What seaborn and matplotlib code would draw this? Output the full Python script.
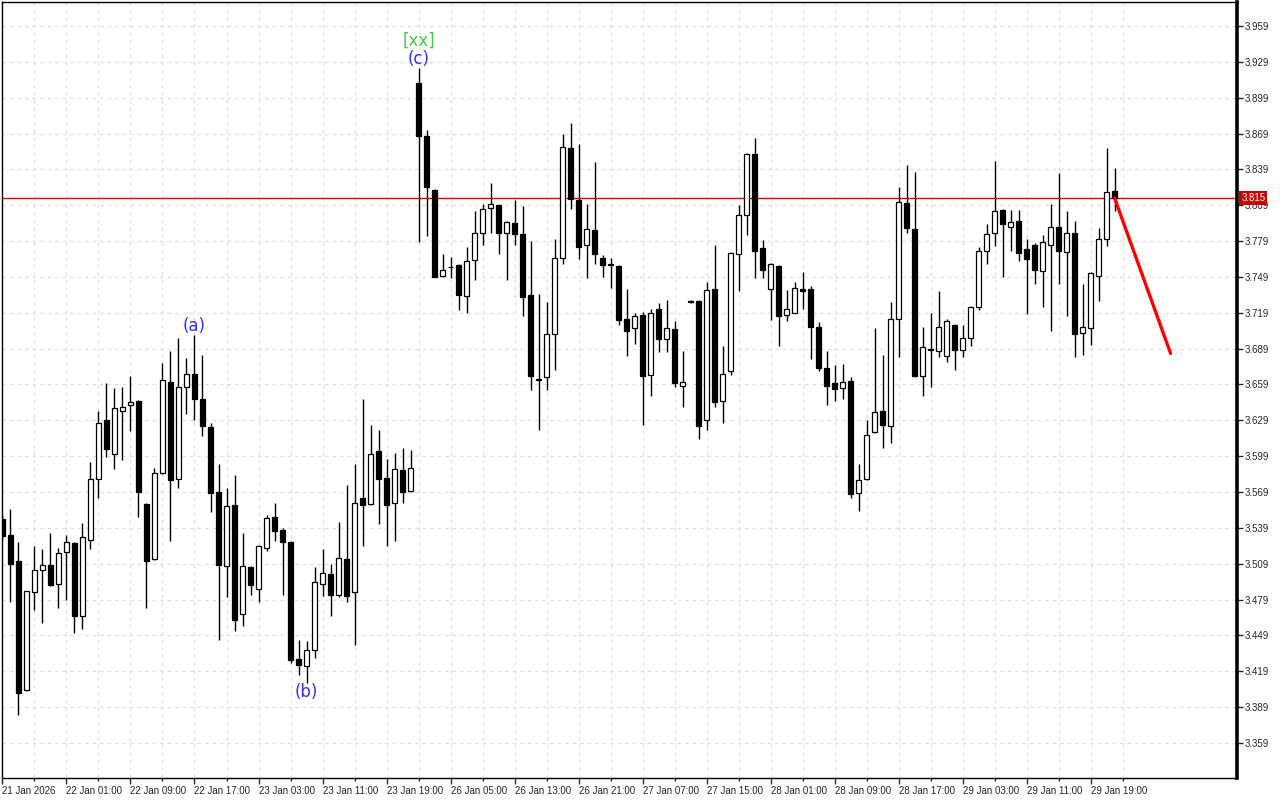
import numpy as np
import pandas as pd
import matplotlib
matplotlib.use('Agg')
import matplotlib.pyplot as plt
import matplotlib.transforms as mtransforms
import seaborn as sns

# hourly OHLC, one value per bar (bar 0 = first bar on the left)
opens = [3.546, 3.533, 3.511, 3.403, 3.485, 3.504, 3.508, 3.492, 3.519, 3.526,
         3.465, 3.529, 3.580, 3.629, 3.601, 3.637, 3.642, 3.645, 3.559, 3.513,
         3.585, 3.661, 3.580, 3.657, 3.668, 3.647, 3.623, 3.569, 3.507, 3.558,
         3.467, 3.506, 3.488, 3.522, 3.548, 3.537, 3.527, 3.429, 3.423, 3.437,
         3.492, 3.500, 3.483, 3.513, 3.485, 3.564, 3.559, 3.603, 3.581, 3.560,
         3.587, 3.570, 3.911, 3.867, 3.822, 3.750, 3.757, 3.759, 3.733, 3.763,
         3.786, 3.807, 3.809, 3.786, 3.794, 3.785, 3.734, 3.663, 3.665, 3.701,
         3.765, 3.857, 3.813, 3.776, 3.788, 3.765, 3.759, 3.758, 3.714, 3.706,
         3.717, 3.667, 3.722, 3.697, 3.705, 3.658, 3.729, 3.729, 3.629, 3.739,
         3.645, 3.670, 3.768, 3.801, 3.852, 3.773, 3.739, 3.758, 3.717, 3.719,
         3.739, 3.739, 3.707, 3.673, 3.660, 3.656, 3.662, 3.568, 3.580, 3.619,
         3.637, 3.624, 3.714, 3.811, 3.789, 3.666, 3.688, 3.687, 3.683, 3.709,
         3.688, 3.698, 3.724, 3.771, 3.786, 3.805, 3.791, 3.796, 3.772, 3.776,
         3.754, 3.776, 3.791, 3.770, 3.786, 3.702, 3.706, 3.750, 3.781, 3.821]
highs = [3.550, 3.555, 3.527, 3.486, 3.524, 3.521, 3.535, 3.522, 3.533, 3.527,
         3.543, 3.594, 3.637, 3.660, 3.656, 3.657, 3.666, 3.646, 3.560, 3.589,
         3.677, 3.687, 3.698, 3.681, 3.700, 3.684, 3.627, 3.592, 3.572, 3.583,
         3.535, 3.507, 3.525, 3.550, 3.560, 3.539, 3.528, 3.445, 3.444, 3.506,
         3.521, 3.509, 3.544, 3.575, 3.592, 3.647, 3.625, 3.621, 3.597, 3.602,
         3.606, 3.604, 3.924, 3.872, 3.823, 3.768, 3.766, 3.760, 3.774, 3.804,
         3.810, 3.828, 3.810, 3.796, 3.813, 3.808, 3.779, 3.735, 3.728, 3.781,
         3.869, 3.878, 3.860, 3.810, 3.845, 3.767, 3.765, 3.759, 3.739, 3.719,
         3.720, 3.722, 3.727, 3.730, 3.712, 3.687, 3.730, 3.730, 3.745, 3.776,
         3.691, 3.770, 3.809, 3.853, 3.865, 3.780, 3.761, 3.759, 3.738, 3.745,
         3.753, 3.741, 3.711, 3.687, 3.675, 3.676, 3.665, 3.592, 3.629, 3.706,
         3.684, 3.728, 3.824, 3.843, 3.837, 3.707, 3.719, 3.737, 3.714, 3.710,
         3.709, 3.725, 3.774, 3.793, 3.846, 3.806, 3.805, 3.805, 3.781, 3.777,
         3.784, 3.810, 3.836, 3.804, 3.796, 3.743, 3.753, 3.790, 3.857, 3.840]
lows = [3.529, 3.477, 3.382, 3.402, 3.470, 3.459, 3.490, 3.472, 3.479, 3.451,
        3.454, 3.521, 3.564, 3.598, 3.588, 3.596, 3.620, 3.548, 3.472, 3.512,
        3.584, 3.528, 3.572, 3.634, 3.629, 3.616, 3.552, 3.445, 3.481, 3.453,
        3.457, 3.483, 3.477, 3.520, 3.528, 3.483, 3.426, 3.416, 3.409, 3.430,
        3.482, 3.465, 3.481, 3.477, 3.441, 3.524, 3.558, 3.542, 3.524, 3.528,
        3.560, 3.569, 3.778, 3.783, 3.749, 3.749, 3.748, 3.721, 3.719, 3.746,
        3.776, 3.786, 3.768, 3.746, 3.776, 3.716, 3.654, 3.621, 3.654, 3.671,
        3.760, 3.806, 3.764, 3.748, 3.760, 3.749, 3.740, 3.709, 3.683, 3.693,
        3.625, 3.649, 3.686, 3.686, 3.657, 3.640, 3.727, 3.613, 3.621, 3.640,
        3.627, 3.667, 3.737, 3.784, 3.748, 3.748, 3.713, 3.691, 3.712, 3.719,
        3.722, 3.680, 3.670, 3.642, 3.645, 3.647, 3.564, 3.553, 3.579, 3.618,
        3.606, 3.610, 3.682, 3.786, 3.665, 3.649, 3.657, 3.682, 3.678, 3.671,
        3.682, 3.691, 3.721, 3.760, 3.775, 3.749, 3.771, 3.762, 3.718, 3.743,
        3.724, 3.704, 3.743, 3.716, 3.682, 3.684, 3.692, 3.729, 3.775, 3.804]
closes = [3.532, 3.509, 3.401, 3.486, 3.504, 3.508, 3.491, 3.518, 3.527, 3.465,
          3.531, 3.580, 3.627, 3.605, 3.639, 3.640, 3.644, 3.569, 3.511, 3.585,
          3.663, 3.579, 3.657, 3.668, 3.647, 3.624, 3.568, 3.508, 3.557, 3.462,
          3.507, 3.491, 3.524, 3.547, 3.536, 3.527, 3.428, 3.424, 3.437, 3.494,
          3.501, 3.483, 3.514, 3.482, 3.560, 3.558, 3.601, 3.580, 3.558, 3.588,
          3.569, 3.589, 3.867, 3.824, 3.749, 3.755, 3.757, 3.734, 3.762, 3.786,
          3.806, 3.810, 3.786, 3.795, 3.785, 3.732, 3.666, 3.663, 3.701, 3.765,
          3.858, 3.814, 3.774, 3.789, 3.768, 3.759, 3.759, 3.713, 3.704, 3.716,
          3.666, 3.719, 3.697, 3.706, 3.660, 3.661, 3.728, 3.624, 3.738, 3.644,
          3.668, 3.769, 3.801, 3.852, 3.771, 3.755, 3.760, 3.716, 3.722, 3.740,
          3.737, 3.707, 3.673, 3.658, 3.655, 3.661, 3.567, 3.579, 3.617, 3.636,
          3.625, 3.714, 3.812, 3.790, 3.666, 3.690, 3.688, 3.707, 3.712, 3.688,
          3.698, 3.724, 3.771, 3.785, 3.804, 3.793, 3.795, 3.769, 3.764, 3.755,
          3.778, 3.791, 3.771, 3.786, 3.701, 3.707, 3.752, 3.781, 3.820, 3.815]

time_labels = ["21 Jan 2026", "22 Jan 01:00", "22 Jan 09:00", "22 Jan 17:00",
               "23 Jan 03:00", "23 Jan 11:00", "23 Jan 19:00", "26 Jan 05:00",
               "26 Jan 13:00", "26 Jan 21:00", "27 Jan 07:00", "27 Jan 15:00",
               "28 Jan 01:00", "28 Jan 09:00", "28 Jan 17:00", "29 Jan 03:00",
               "29 Jan 11:00", "29 Jan 19:00"]
price_ticks = [3.359, 3.389, 3.419, 3.449, 3.479, 3.509, 3.539, 3.569, 3.599,
               3.629, 3.659, 3.689, 3.719, 3.749, 3.779, 3.809, 3.839, 3.869,
               3.899, 3.929, 3.959]

last_price = 3.815
forecast_bars = [139, 146]
forecast_prices = [3.815, 3.685]

# wave labels: text, bar, anchor, offset (points), colour
wave_marks = [("(a)", 24, "high", 6.5, "#3232ff"),
              ("(b)", 38, "low", -6.5, "#3232ff"),
              ("(c)", 52, "high", 6.0, "#3232ff"),
              ("[xx]", 52, "high", 19.5, "#45c845")]

sns.set_style('white')
plt.rcParams['font.family'] = ['DejaVu Sans']

df = pd.DataFrame({'open': opens, 'high': highs, 'low': lows, 'close': closes})
df['bar'] = np.arange(len(df))
up = df['close'] >= df['open']

fig = plt.figure(figsize=(12.8, 8), dpi=100)
ax = fig.add_axes([2 / 1280, 22 / 800, 1235 / 1280, 776 / 800])

# candles
ax.vlines(df['bar'], df['low'], df['high'], color='black', linewidth=1, zorder=3)
body_bottom = df[['open', 'close']].min(axis=1)
body_height = (df['close'] - df['open']).abs().clip(lower=0.0006)
ax.bar(df['bar'], body_height, bottom=body_bottom, width=0.6,
       color=np.where(up, 'white', 'black'), edgecolor='black',
       linewidth=0.9, zorder=4)

# current price line + forecast
ax.axhline(last_price, color='#e00000', linewidth=1, zorder=2)
sns.lineplot(x=forecast_bars, y=forecast_prices, color='#ff0000',
             linewidth=2.4, ax=ax, zorder=5)

for text, bar, anchor, off, col in wave_marks:
    y = df.loc[bar, anchor]
    ax.annotate(text, xy=(bar, y), xytext=(0, off), textcoords='offset points',
                ha='center', va='center', fontsize=12, color=col, zorder=6)

# axes, ticks, grid
ax.set_xlim(-0.06, 154.3)
ax.set_ylim(3.3296, 3.9791)
ax.set_xticks(range(0, 8 * len(time_labels), 8))
ax.set_xticklabels(time_labels, fontsize=7, family='Liberation Sans')
for lbl in ax.get_xticklabels():
    lbl.set_ha('left')
ax.set_xticks(range(4, 8 * len(time_labels) + 4, 8), minor=True)
ax.yaxis.tick_right()
ax.set_yticks(price_ticks)
ax.set_yticklabels([f'{p:.3f}' for p in price_ticks], fontsize=7,
                   family='Liberation Sans')
ax.tick_params(axis='y', direction='out', length=4, width=1, pad=1.5, right=True, left=False)
ax.tick_params(axis='x', which='major', direction='out', length=4, width=1, pad=1.5, bottom=True)
ax.tick_params(axis='x', which='minor', direction='out', length=2, width=1, bottom=True)
ax.set_xlabel('')
ax.set_ylabel('')

grid_kw = dict(color='#e0e0e0', linestyle=(0, (3, 3)), linewidth=0.9)
ax.grid(axis='x', which='both', **grid_kw)
ax.grid(axis='y', which='major', **grid_kw)
ax.set_axisbelow(True)

for side in ['left', 'top', 'bottom']:
    ax.spines[side].set_color('black')
    ax.spines[side].set_linewidth(1)
ax.spines['right'].set_color('black')
ax.spines['right'].set_linewidth(2.6)

trans = mtransforms.blended_transform_factory(ax.transAxes, ax.transData)
ax.text(1.0035, last_price, f'{last_price:.3f}', transform=trans, ha='left',
        va='center', color='white', fontsize=7, family='Liberation Sans',
        zorder=10, clip_on=False,
        bbox=dict(boxstyle='square,pad=0.2', facecolor='#c80000', edgecolor='none'))

fig.savefig('out.png', dpi=100)
plt.close(fig)
